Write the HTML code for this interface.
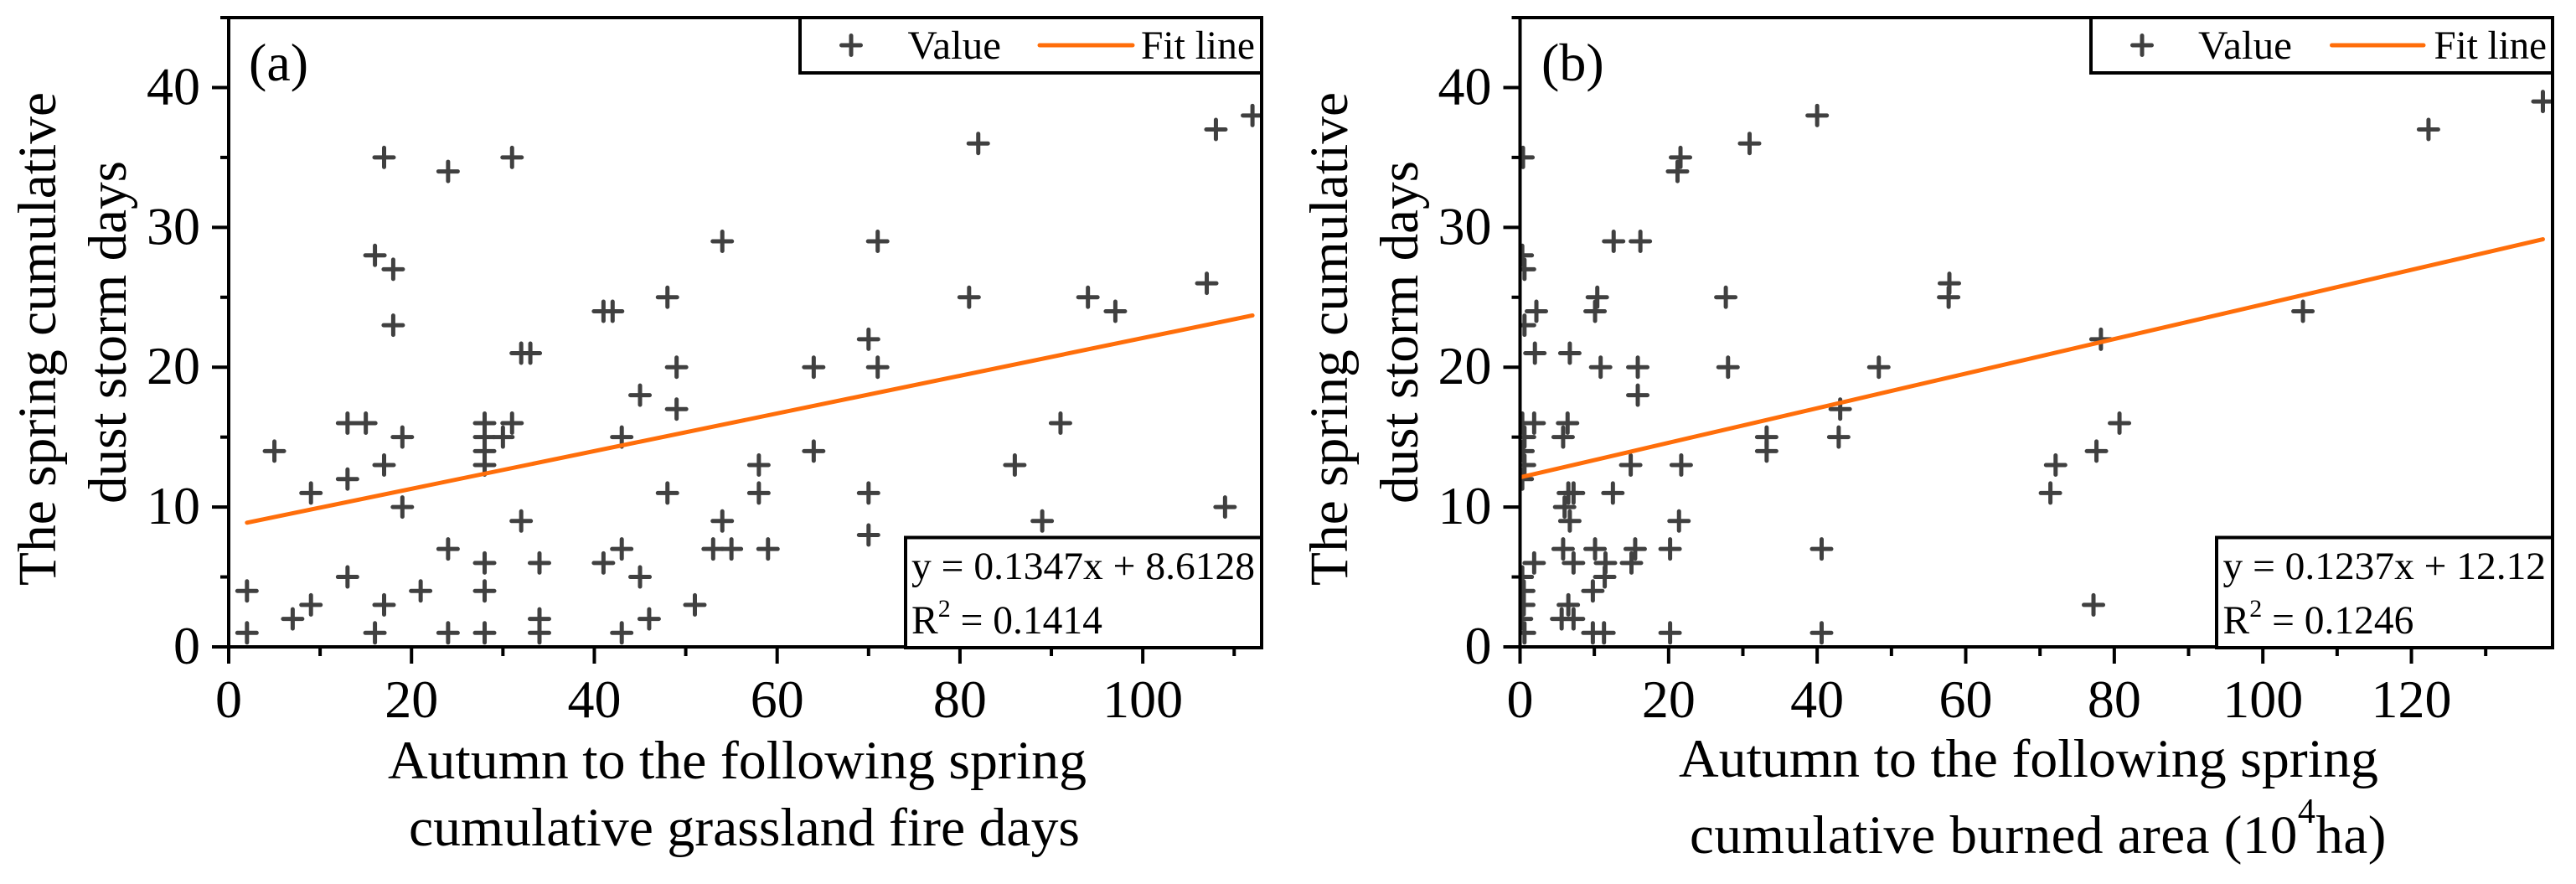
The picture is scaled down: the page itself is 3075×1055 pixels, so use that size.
<!DOCTYPE html>
<html lang="en">
<head>
<meta charset="utf-8">
<title>Dust storm days vs grassland fire days and burned area</title>
<style>
  html, body { margin: 0; padding: 0; background: #fff; }
  body { width: 3075px; height: 1055px; overflow: hidden; }
  svg { display: block; }
  text { font-family: "Liberation Serif", serif; fill: #000; }
</style>
</head>
<body>
<svg id="figure" xmlns="http://www.w3.org/2000/svg" width="3075" height="1055" viewBox="0 0 3075 1055">
  <rect x="0" y="0" width="3075" height="1055" fill="#fff"/>
  <defs>
    <clipPath id="clip-a"><rect x="273" y="21" width="1233" height="751"/></clipPath>
    <clipPath id="clip-b"><rect x="1814.5" y="21" width="1232.5" height="751"/></clipPath>
  </defs>

  <g id="panel-a">
    <g id="panel-a-marks" clip-path="url(#clip-a)"></g>
    <g id="panel-a-axes"></g>
    <text x="297" y="96" font-size="64">(a)</text>
    <text transform="translate(66,699) rotate(-90)" font-size="65" textLength="589" lengthAdjust="spacingAndGlyphs">The spring cumulative</text>
    <text transform="translate(150,601) rotate(-90)" font-size="65" textLength="409" lengthAdjust="spacingAndGlyphs">dust storm days</text>
    <text x="463" y="929" font-size="65" textLength="834" lengthAdjust="spacingAndGlyphs">Autumn to the following spring</text>
    <text x="488" y="1009" font-size="65" textLength="801" lengthAdjust="spacingAndGlyphs">cumulative grassland fire days</text>
    <g>
      <rect x="955" y="21" width="551" height="66" fill="#fff" stroke="#000" stroke-width="4"/>
      <path d="M1004.5 54H1027.5M1016 42.5V65.5" fill="none" stroke="#404040" stroke-width="5" stroke-linecap="round"/>
      <text x="1083.5" y="70" font-size="48" textLength="111.5" lengthAdjust="spacingAndGlyphs">Value</text>
      <line x1="1241" y1="54" x2="1352" y2="54" stroke="#ff6e0a" stroke-width="5" stroke-linecap="round"/>
      <text x="1362" y="70" font-size="48" textLength="136" lengthAdjust="spacingAndGlyphs">Fit line</text>
    </g>
    <g>
      <rect x="1081" y="641.5" width="425" height="131.5" fill="#fff" stroke="#000" stroke-width="4"/>
      <text x="1088" y="691" font-size="47" textLength="410" lengthAdjust="spacingAndGlyphs">y = 0.1347x + 8.6128</text>
      <text x="1088" y="756" font-size="47.5">R<tspan font-size="30" dy="-20">2</tspan><tspan dy="20"> = 0.1414</tspan></text>
    </g>
  </g>

  <g id="panel-b">
    <g id="panel-b-marks" clip-path="url(#clip-b)"></g>
    <g id="panel-b-axes"></g>
    <text x="1840" y="96" font-size="64">(b)</text>
    <text transform="translate(1608,699) rotate(-90)" font-size="65" textLength="589" lengthAdjust="spacingAndGlyphs">The spring cumulative</text>
    <text transform="translate(1692,601) rotate(-90)" font-size="65" textLength="409" lengthAdjust="spacingAndGlyphs">dust storm days</text>
    <text x="2004" y="927" font-size="65" textLength="835" lengthAdjust="spacingAndGlyphs">Autumn to the following spring</text>
    <text x="2017" y="1018" font-size="65" letter-spacing="0.5">cumulative burned area (10<tspan font-size="42" dy="-36">4</tspan><tspan dy="36">ha)</tspan></text>
    <g>
      <rect x="2496" y="21" width="551" height="66" fill="#fff" stroke="#000" stroke-width="4"/>
      <path d="M2545.5 54H2568.5M2557 42.5V65.5" fill="none" stroke="#404040" stroke-width="5" stroke-linecap="round"/>
      <text x="2624" y="70" font-size="48" textLength="112" lengthAdjust="spacingAndGlyphs">Value</text>
      <line x1="2783.5" y1="54" x2="2893" y2="54" stroke="#ff6e0a" stroke-width="5" stroke-linecap="round"/>
      <text x="2905.5" y="70" font-size="48" textLength="134.5" lengthAdjust="spacingAndGlyphs">Fit line</text>
    </g>
    <g>
      <rect x="2646" y="641.5" width="401" height="131.5" fill="#fff" stroke="#000" stroke-width="4"/>
      <text x="2653.5" y="691" font-size="47" textLength="385.5" lengthAdjust="spacingAndGlyphs">y = 0.1237x + 12.12</text>
      <text x="2653.5" y="756" font-size="47.5">R<tspan font-size="30" dy="-20">2</tspan><tspan dy="20"> = 0.1246</tspan></text>
    </g>
  </g>
</svg>

<script>
// Panel (a): grassland fire days vs dust storm days
const fireDays = [
  17,24,31,16,18,41,42,48,18,32,33,45,49,49,13,15,19,28,28,31,30,43,5,
  17,28,28,13,9,19,48,32,24,28,34,41,43,45,13,2,21,28,9,17,7,34,46,
  2,16,24,28,34,43,82,108,112,54,71,81,94,97,107,70,64,71,91,64,58,86,
  58,70,54,89,109,70,53,55,59,51
];
const dustDaysA = [
  35,34,35,28,27,24,24,25,23,21,21,18,20,17,16,16,15,16,15,16,15,15,14,
  13,14,13,12,11,10,11,9,7,6,6,6,7,5,5,4,4,4,3,3,2,2,2,
  1,1,1,1,1,1,36,37,38,29,29,25,25,24,26,22,20,20,16,14,13,13,
  11,11,9,9,10,8,7,7,7,3
];
const fitXA = [2, 112];
const fitYA = [8.88, 23.70];
const xMajorTicksA = [0, 20, 40, 60, 80, 100];
const xMinorTicksA = [10, 30, 50, 70, 90, 110];

// Panel (b): burned area vs dust storm days
const burnedArea = [
  0.4,21.6,21.2,30.9,40,12.6,16.2,0.3,0.6,57.8,57.7,10.4,10.1,27.7,2.2,0.6,2,6.7,
  10.85,15.85,28,48.3,15.85,43.1,0.3,1.9,6.4,33.2,42.9,5.8,0.6,0.4,33.2,
  0.6,14.9,21.7,0.3,6.5,7.2,12.5,6,6.7,21.4,5.8,10.1,15.5,20.2,40.6,
  1.9,7.2,11.5,15,0.3,11.4,0.5,9.8,0.5,6.5,0.2,5.6,7.2,0.6,9.8,11.3,20.2,40.6,
  137.7,122.3,78.2,105.4,80.7,77.6,72.1,71.4,77.2
];
const dustDaysB = [
  35,35,34,36,38,29,29,28,27,26,25,25,24,25,24,23,21,21,
  20,20,20,20,18,17,16,16,16,15,15,15,15,14,14,
  13,13,13,12,11,11,11,10,9,9,7,7,7,7,7,
  6,6,6,6,5,5,4,4,3,3,2,2,2,1,1,1,1,1,
  39,37,22,24,16,14,13,11,3
];
const fitXB = [0, 137.7];
const fitYB = [12.12, 29.15];
const xMajorTicksB = [0, 20, 40, 60, 80, 100, 120];
const xMinorTicksB = [10, 30, 50, 70, 90, 110, 130];

// Shared y axis
const yMajorTicks = [0, 10, 20, 30, 40];
const yMinorTicks = [5, 15, 25, 35, 45];

const SVG_NS = 'http://www.w3.org/2000/svg';
const AXIS_COLOR = '#000';
const AXIS_WIDTH = 4;
const MARK_COLOR = '#404040';
const FIT_COLOR = '#ff6e0a';

function scale(domainMax, start, end) {
  return function (v) { return start + (v / domainMax) * (end - start); };
}

const yScale = scale(45, 772, 21);

function svgLine(x1, y1, x2, y2, color, width, cap) {
  const el = document.createElementNS(SVG_NS, 'line');
  el.setAttribute('x1', x1);
  el.setAttribute('y1', y1);
  el.setAttribute('x2', x2);
  el.setAttribute('y2', y2);
  el.setAttribute('stroke', color);
  el.setAttribute('stroke-width', width);
  if (cap) el.setAttribute('stroke-linecap', cap);
  return el;
}

function svgText(x, y, anchor, content) {
  const el = document.createElementNS(SVG_NS, 'text');
  el.setAttribute('x', x);
  el.setAttribute('y', y);
  el.setAttribute('text-anchor', anchor);
  el.setAttribute('font-size', '64');
  el.textContent = content;
  return el;
}

function drawPoints(group, xs, ys, xScaleFn) {
  xs.forEach(function (xv, i) {
    const px = xScaleFn(xv);
    const py = yScale(ys[i]);
    const el = document.createElementNS(SVG_NS, 'path');
    el.setAttribute('d', 'M' + (px - 11.5) + ' ' + py + 'H' + (px + 11.5) + 'M' + px + ' ' + (py - 11.5) + 'V' + (py + 11.5));
    el.setAttribute('fill', 'none');
    el.setAttribute('stroke', MARK_COLOR);
    el.setAttribute('stroke-width', '5');
    el.setAttribute('stroke-linecap', 'round');
    
    
    group.appendChild(el);
  });
}

function drawFit(group, fx, fy, xScaleFn) {
  const el = svgLine(xScaleFn(fx[0]), yScale(fy[0]), xScaleFn(fx[1]), yScale(fy[1]), FIT_COLOR, 5, 'round');
  
  
  group.appendChild(el);
}

function drawAxes(group, xScaleFn, xMajor, xMinor, left, right) {
  const top = yScale(45);
  const bottom = yScale(0);

  const frame = document.createElementNS(SVG_NS, 'path');
  frame.setAttribute('d', 'M' + left + ' ' + top + 'H' + right + 'V' + bottom + 'H' + left + 'Z');
  frame.setAttribute('fill', 'none');
  frame.setAttribute('stroke', AXIS_COLOR);
  frame.setAttribute('stroke-width', AXIS_WIDTH);
  
  
  group.appendChild(frame);

  xMajor.forEach(function (v) {
    const tick = svgLine(xScaleFn(v), bottom, xScaleFn(v), bottom + 20, AXIS_COLOR, AXIS_WIDTH);
    
    
    group.appendChild(tick);
    const label = svgText(xScaleFn(v), 856, 'middle', String(v));
    
    
    group.appendChild(label);
  });

  xMinor.forEach(function (v) {
    const tick = svgLine(xScaleFn(v), bottom, xScaleFn(v), bottom + 11, AXIS_COLOR, AXIS_WIDTH);
    
    
    group.appendChild(tick);
  });

  yMajorTicks.forEach(function (v) {
    const tick = svgLine(left - 20, yScale(v), left, yScale(v), AXIS_COLOR, AXIS_WIDTH);
    
    
    group.appendChild(tick);
    const label = svgText(left - 34, yScale(v) + 20, 'end', String(v));
    
    
    group.appendChild(label);
  });

  yMinorTicks.forEach(function (v) {
    const tick = svgLine(left - 10, yScale(v), left, yScale(v), AXIS_COLOR, AXIS_WIDTH);
    
    
    group.appendChild(tick);
  });
}

const xScaleA = scale(113, 273, 1506);
const xScaleB = scale(139, 1814.5, 3047);

const marksA = document.getElementById('panel-a-marks');
const marksB = document.getElementById('panel-b-marks');

drawPoints(marksA, fireDays, dustDaysA, xScaleA);
drawFit(marksA, fitXA, fitYA, xScaleA);
drawAxes(document.getElementById('panel-a-axes'), xScaleA, xMajorTicksA, xMinorTicksA, 273, 1506);

drawPoints(marksB, burnedArea, dustDaysB, xScaleB);
drawFit(marksB, fitXB, fitYB, xScaleB);
drawAxes(document.getElementById('panel-b-axes'), xScaleB, xMajorTicksB, xMinorTicksB, 1814.5, 3047);
</script>
</body>
</html>
